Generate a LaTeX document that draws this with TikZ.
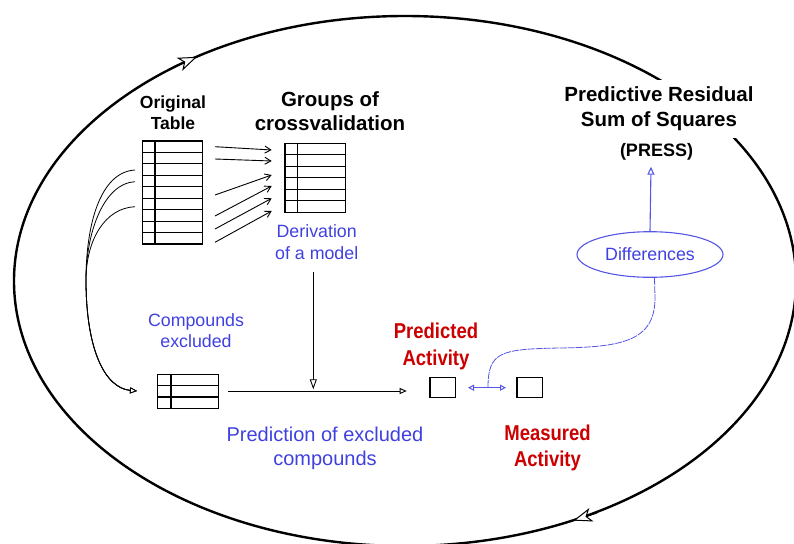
\documentclass[tikz,border=0pt]{standalone}
\usepackage{fontspec}
\setmainfont{Liberation Sans}
\newfontfamily\condfont[FakeStretch=0.86]{Liberation Sans}
\usetikzlibrary{arrows.meta,shapes.geometric}
\definecolor{dblue}{RGB}{64,64,224}
\definecolor{lblue}{RGB}{85,85,230}
\definecolor{dred}{RGB}{204,0,0}
\begin{document}
\begin{tikzpicture}[x=1pt,y=-1pt,
  tbl/.style={line width=1.1pt},
  tblbox/.style={draw, line width=1.1pt, inner sep=0pt},
  hdr/.style={font=\bfseries, align=center, anchor=base, inner sep=0pt, text=black},
  bluetxt/.style={text=dblue, align=center, anchor=base, inner sep=0pt},
  redtxt/.style={text=dred, font=\condfont\bfseries\fontsize{21.5}{26.5}\selectfont, align=center, anchor=base, inner sep=0pt},
  thinarr/.style={line width=0.9pt, -{Straight Barb[length=6pt,width=7pt]}},
  openarr/.style={line width=0.9pt, -{Triangle[open,fill=white,length=7pt,width=6pt]}},
  bigtip/.style={line width=1pt, -{Stealth[open,fill=white,length=19pt,width=14pt,inset=5pt]}},
]
\useasboundingbox (0,0) rectangle (794,543);
\begin{scope}
\clip (0,0) rectangle (794,543);
\draw[line width=2.4pt] (405,281) ellipse [x radius=391, y radius=265];
\end{scope}
% arrowheads on the big ellipse
\coordinate (ea1) at (174,66.6); \coordinate (eb1) at (197,56.8);
\draw[bigtip] (ea1) -- (eb1);
\coordinate (ea2) at (597,513); \coordinate (eb2) at (573.3,520.6);
\draw[bigtip] (ea2) -- (eb2);

% labels (anchor base = baseline of the last line)
\node[hdr, font=\bfseries\fontsize{17.5}{21}\selectfont] (origlbl) at (173,129.3) {Original\\Table};
\node[hdr, font=\bfseries\fontsize{20.5}{23.3}\selectfont] (grplbl) at (330,130) {Groups of\\crossvalidation};
\node[hdr, font=\bfseries\fontsize{20.5}{25}\selectfont, fill=white, inner xsep=3pt, inner ysep=7pt] (presslbl) at (659,126.7) {Predictive Residual\\Sum of Squares};
\node[hdr, font=\bfseries\fontsize{18}{22}\selectfont] (pressabbr) at (656.5,156.7) {(PRESS)};
\node[bluetxt, font=\fontsize{17.8}{21.6}\selectfont] (derlbl) at (316.7,259.3) {Derivation\\of a model};
\node[bluetxt, font=\fontsize{17.8}{21}\selectfont] (exlbl) at (196,347.7) {Compounds\\excluded};
\node[bluetxt, font=\fontsize{20}{23.3}\selectfont] (predexlbl) at (325,465) {Prediction of excluded\\compounds};
\node[redtxt] (predlbl) at (436,365) {Predicted\\Activity};
\node[redtxt] (measlbl) at (547.5,466.7) {Measured\\Activity};

% original table
\node[tblbox, minimum width=60.4pt, minimum height=103pt] (origtab) at (172.5,192.5) {};
\foreach \i in {1,...,8} \draw[tbl] (142.3,{141+\i*11.444}) -- (202.7,{141+\i*11.444});
\draw[tbl] (155,141) -- (155,244);

% groups table
\node[tblbox, minimum width=60.7pt, minimum height=69pt] (grptab) at (315.35,177.8) {};
\foreach \i in {1,...,5} \draw[tbl] (285,{143.3+\i*11.5}) -- (345.7,{143.3+\i*11.5});
\draw[tbl] (297.3,143.3) -- (297.3,212.3);

% excluded table
\node[tblbox, minimum width=60.6pt, minimum height=34pt] (extab) at (188,391.3) {};
\foreach \i in {1,2} \draw[tbl] (157.7,{374.3+\i*11.33}) -- (218.3,{374.3+\i*11.33});
\draw[tbl] (171,374.3) -- (171,408.3);

% predicted / measured boxes
\node[draw, line width=1.1pt, minimum width=25.7pt, minimum height=19.6pt, inner sep=0pt] (predbox) at (442.85,387.5) {};
\node[draw, line width=1.1pt, minimum width=25.7pt, minimum height=19.6pt, inner sep=0pt] (measbox) at (529.85,387.5) {};

% arrows original -> groups
\foreach [count=\k] \ya/\yb in {146.7/150, 159/161, 195/175, 216/186, 229/198.3, 242.3/211} {
  \coordinate (os\k) at (215,\ya);
  \coordinate (gt\k) at (271.7,\yb);
  \draw[thinarr] (os\k) -- (gt\k);
}

% curved arrows original -> excluded
\coordinate (cA) at (135,170);
\coordinate (cB) at (135,181.7);
\coordinate (cC) at (135,206.7);
\coordinate (exin) at (137,391);
\draw[openarr, line width=0.8pt] (cA) .. controls (100,172) and (86,225) .. (86,280) .. controls (86,350) and (105,388) .. (exin);
\draw[openarr, line width=0.8pt] (cB) .. controls (105,183) and (86,230) .. (86,280) .. controls (86,350) and (105,388) .. (exin);
\draw[openarr, line width=0.8pt] (cC) .. controls (105,208) and (86,240) .. (86,280) .. controls (86,350) and (105,388) .. (exin);

% prediction arrows
\coordinate (hstart) at (228.3,391);
\coordinate (hend) at (406.7,391);
\draw[openarr] (hstart) -- (hend);
\coordinate (vstart) at (313.3,271.7);
\coordinate (vend) at (313.3,389.3);
\draw[line width=0.9pt, -{Triangle[open,fill=white,length=10pt,width=7pt]}] (vstart) -- (vend);

% differences
\node[draw=lblue, ellipse, line width=1.1pt, minimum width=146pt, minimum height=45.6pt, inner sep=0pt, text=dblue, font=\fontsize{17.8}{21}\selectfont] (diff) at (650,254.5) {Differences};
\coordinate (pressin) at (651,166.7);
\draw[lblue, line width=1.1pt, -{Triangle[open,fill=white,length=8pt,width=7pt]}] (diff.north) -- (pressin);

% double arrow between activities
\coordinate (dl) at (468,387.7);
\coordinate (dr) at (506,387.7);
\coordinate (dmid) at (488,387.7);
\draw[lblue, line width=1pt, {Triangle[open,fill=white,length=6pt,width=6pt]}-{Triangle[open,fill=white,length=6pt,width=6pt]}] (dl) -- (dr);
\draw[lblue, line width=0.8pt, dash pattern=on 7pt off 1pt] ([xshift=4.5pt]diff.south) -- (655,298) .. controls (655,342) and (620,347) .. (560,348) .. controls (500,349) and (488,352) .. (dmid);
\end{tikzpicture}
\end{document}
